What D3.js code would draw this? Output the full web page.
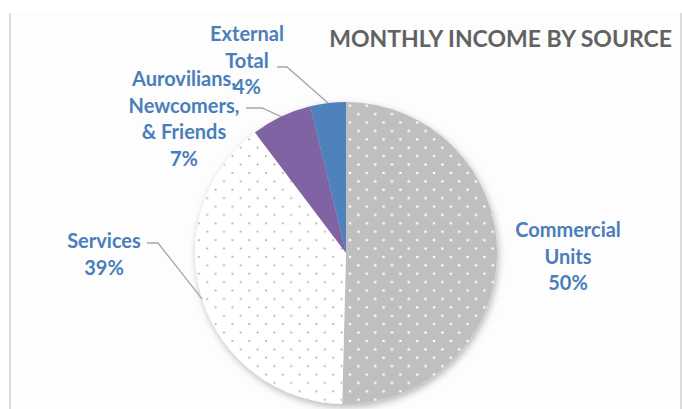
<!DOCTYPE html>
<html><head><meta charset="utf-8">
<script src="https://cdn.jsdelivr.net/npm/d3@7"></script>
<style>
html,body{margin:0;padding:0;background:#fff;}
svg{display:block;}
text{font-family:Lato,"Open Sans",sans-serif;font-weight:bold;}
</style></head>
<body>
<svg id="chart" width="682" height="409"></svg>
<script>
const title = "MONTHLY INCOME BY SOURCE";
const categories = ["Commercial Units", "Services", "Aurovilians, Newcomers, & Friends", "External Total"];
const values = [50.4, 39.3, 6.5, 3.8];
const labelNames = [
  ["Commercial", "Units"],
  ["Services"],
  ["Aurovilians,", "Newcomers,", "& Friends"],
  ["External", "Total"]
];

const W = 682, H = 409;
const svg = d3.select("#chart");
const defs = svg.append("defs");

const T = 16.8, h = T/2;
const pg = defs.append("pattern").attr("id","dotGray").attr("patternUnits","userSpaceOnUse")
  .attr("width",T).attr("height",T);
pg.append("rect").attr("width",T).attr("height",T).attr("fill","#bfbfbf");
pg.append("circle").attr("cx",4).attr("cy",4).attr("r",1.3).attr("fill","#fff");
pg.append("circle").attr("cx",4+h).attr("cy",4+h).attr("r",1.3).attr("fill","#fff");

const pw = defs.append("pattern").attr("id","dotWhite").attr("patternUnits","userSpaceOnUse")
  .attr("width",T).attr("height",T);
pw.append("rect").attr("width",T).attr("height",T).attr("fill","#ffffff");
pw.append("circle").attr("cx",4).attr("cy",4).attr("r",1.0).attr("fill","#a8a8a8");
pw.append("circle").attr("cx",4+h).attr("cy",4+h).attr("r",1.0).attr("fill","#a8a8a8");

const f = defs.append("filter").attr("id","shadow").attr("x","-20%").attr("y","-20%").attr("width","140%").attr("height","140%");
f.append("feDropShadow").attr("dx",1.5).attr("dy",3).attr("stdDeviation",3.5)
  .attr("flood-color","#000").attr("flood-opacity",0.28);

svg.append("rect").attr("x",10).attr("y",13).attr("width",671).attr("height",H).attr("fill","#fdfdfd");
svg.append("line").attr("x1",10).attr("x2",10).attr("y1",13).attr("y2",H).attr("stroke","#dcdcdc").attr("stroke-width",2);
svg.append("line").attr("x1",681).attr("x2",681).attr("y1",13).attr("y2",H).attr("stroke","#dcdcdc").attr("stroke-width",2);

svg.append("text").attr("x",672).attr("y",47).attr("text-anchor","end")
  .attr("font-size",23).attr("fill","#626262").text(title);

const cx = 346, cy = 253, r = 151;
const fills = ["url(#dotGray)","url(#dotWhite)","#8064a2","#4f81bd"];

const pie = d3.pie().sort(null).value(d=>d)(values);
const arc = d3.arc().innerRadius(0).outerRadius(r);
const total = d3.sum(values);

const g = svg.append("g").attr("transform",`translate(${cx},${cy})`);
g.append("g").attr("filter","url(#shadow)")
  .selectAll("path").data(pie).join("path")
  .attr("d",arc).attr("fill",(d,i)=>fills[i]);

const labelPos = [
  {x:568, y:237, leader:null},
  {x:104, y:248, leader:{x0:147, y0:243, x1:158}},
  {x:184, y:86, leader:{x0:246, y0:108, x1:262}},
  {x:247, y:41, leader:{x0:277, y0:67, x1:287}}
];
const lineH = 26.7;

pie.forEach((d,i)=>{
  const p = labelPos[i];
  if (p.leader) {
    const a = (d.startAngle + d.endAngle)/2;
    const ex = cx + r*Math.sin(a), ey = cy - r*Math.cos(a);
    svg.append("path")
      .attr("d",`M${p.leader.x0},${p.leader.y0}H${p.leader.x1}L${ex},${ey}`)
      .attr("fill","none").attr("stroke","#a6a6a6").attr("stroke-width",1.3);
  }
  const lines = labelNames[i].concat([Math.round(values[i]/total*100) + "%"]);
  const t = svg.append("text").attr("text-anchor","middle").attr("font-size",20).attr("fill","#4a7ebb");
  lines.forEach((s,k)=>{
    t.append("tspan").attr("x",p.x).attr("y",p.y + k*lineH).text(s);
  });
});
</script>
</body></html>
